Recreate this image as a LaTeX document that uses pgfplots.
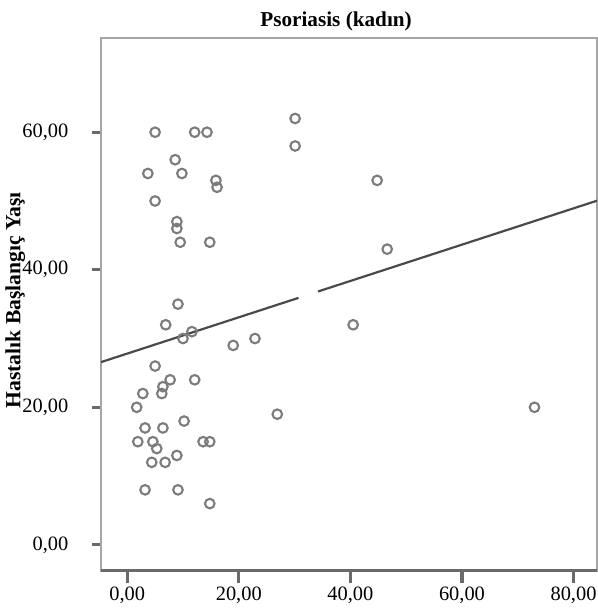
\documentclass[border=0pt]{standalone}
\usepackage{fontspec}
\setmainfont{Liberation Serif}
\usepackage{pgfplots}
\pgfplotsset{compat=1.18}
\definecolor{framegray}{HTML}{A6A6A6}
\definecolor{tickgray}{HTML}{6A6A6A}
\definecolor{markgray}{HTML}{7C7C7C}
\definecolor{linegray}{HTML}{4A4A4A}

\begin{document}
\begin{tikzpicture}
\begin{axis}[
    width=248pt, height=266.5pt, scale only axis,
    xmin=-4.7, xmax=84.2, ymin=-3.8, ymax=73.7,
    xtick={0,20,40,60,80}, ytick={0,20,40,60},
    minor tick num=0,
    tick align=outside, tick pos=left,
    xtick style={draw=tickgray, line width=1.6pt, /pgfplots/major tick length=6pt},
    ytick style={draw=tickgray, line width=1.4pt, /pgfplots/major tick length=4.5pt},
    axis line style={draw=framegray, line width=1.2pt},
    /pgf/number format/fixed, /pgf/number format/zerofill,
    /pgf/number format/precision=2, /pgf/number format/use comma,
    /pgf/number format/assume math mode=true,
    tick label style={font=\fontsize{10.2}{12}\selectfont, text=black},
    yticklabel style={xshift=-8.5pt},
]
\addplot[only marks, mark=o, mark size=2.4pt, draw=markgray,
         mark options={line width=1.05pt}] coordinates {
 (5.0,60) (12.1,60) (14.3,60) (30.1,62) (30.1,58)
 (3.7,54) (8.6,56) (9.8,54) (15.9,53) (16.1,52) (44.8,53)
 (5.0,50) (8.9,47) (8.9,46) (9.5,44) (14.8,44) (46.6,43)
 (9.1,35) (6.9,32) (40.5,32) (11.6,31) (10.0,30) (19.0,29) (22.9,30)
 (5.0,26) (7.7,24) (12.1,24) (6.4,23) (6.2,22) (2.8,22)
 (1.7,20) (26.9,19) (73.0,20) (10.2,18) (3.2,17) (6.4,17)
 (1.9,15) (4.6,15) (5.3,14) (13.6,15) (14.8,15)
 (4.4,12) (6.8,12) (8.9,13) (3.2,8) (9.1,8) (14.8,6)
};
% fit line, drawn with the small break of the original
\addplot[linegray, line width=1.1pt] coordinates {(-4.7,26.57) (30.7,35.91)};
\addplot[linegray, line width=1.1pt] coordinates {(34.2,36.84) (84.2,50.04)};

\coordinate (T) at (rel axis cs:0.474,1.0225);
\coordinate (YL) at (rel axis cs:-0.173,0.508);
\coordinate (BL) at (rel axis cs:0,0);
\coordinate (BR) at (rel axis cs:1,0);
\coordinate (BB1) at (rel axis cs:-0.2036,-0.0713);
\coordinate (BB2) at (rel axis cs:1.002,1.0713);
\end{axis}
\draw[tickgray, line width=1.5pt] (BL) -- (BR);
\node[anchor=base, font=\fontsize{10.6}{12}\selectfont\bfseries] at (T) {Psoriasis (kadın)};
\node[rotate=90, font=\fontsize{10.8}{12}\selectfont\bfseries] at (YL) {Hastalık Başlangıç Yaşı};
\pgfresetboundingbox
\path (BB1) rectangle (BB2);
\end{tikzpicture}
\end{document}
